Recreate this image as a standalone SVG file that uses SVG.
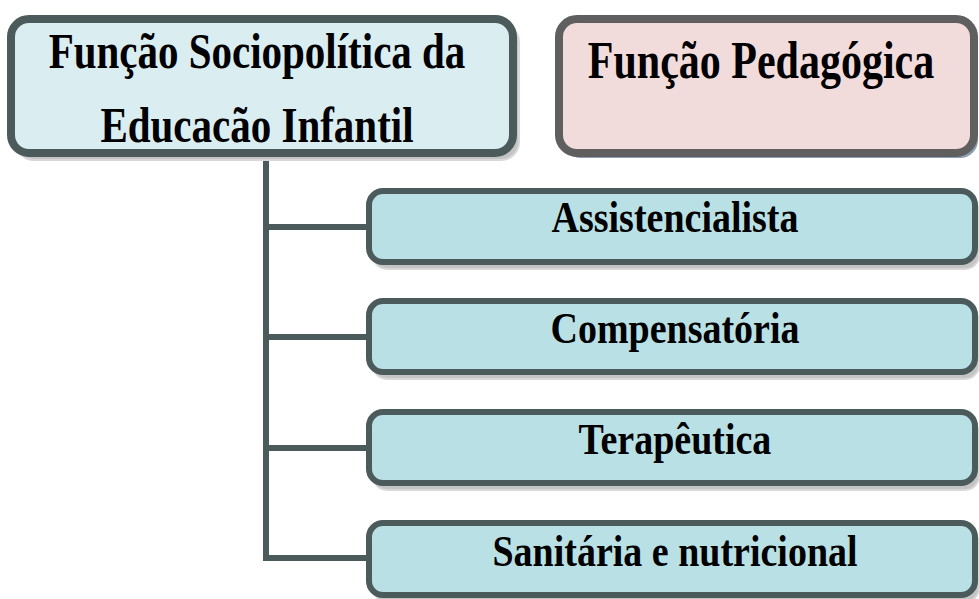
<svg xmlns="http://www.w3.org/2000/svg" width="979" height="599" viewBox="0 0 979 599">
<style>
.t{font-family:"Liberation Serif",serif;font-weight:bold;fill:#000;text-anchor:middle}
.h{font-size:41px}
.c{font-size:38px}
.sh{fill:#c4c4c4;stroke:#d8d8d8;stroke-width:2}
.child{fill:#b9e0e4;stroke:#4b5a5b;stroke-width:6}
.conn{fill:none;stroke:#4b5a5b;stroke-width:6;stroke-linejoin:miter}
</style>
<rect width="979" height="599" fill="#fff"/>
<g id="connectors">
<path class="conn" d="M266 155 V558 H366"/>
<path class="conn" d="M266 227 H366 M266 337 H366 M266 448 H366"/>
</g>
<g id="sociopolitica">
<rect x="16" y="24" width="503" height="136" rx="18" class="sh"/>
<rect x="11" y="19" width="502" height="134" rx="18" fill="#daedf1" stroke="#4b5a5b" stroke-width="8"/>
<text class="t h" transform="translate(257,68) scale(1,1.25)">Função Sociopolítica da</text>
<text class="t h" transform="translate(257,142) scale(1,1.25)">Educacão Infantil</text>
</g>
<g id="pedagogica">
<rect x="563" y="23" width="415" height="135" rx="18" fill="#8d9db3"/>
<rect x="559" y="19" width="415" height="134" rx="18" fill="#f2dcdb" stroke="#5f5f5f" stroke-width="8"/>
<text class="t h" transform="translate(761,78) scale(1,1.25)" style="font-size:42px">Função Pedagógica</text>
</g>
<g id="assistencialista">
<rect x="373" y="198" width="606" height="71" rx="14" class="sh"/>
<rect x="369" y="191" width="606" height="71" rx="14" class="child"/>
<text class="t c" transform="translate(675,232) scale(1,1.15)">Assistencialista</text>
</g>
<g id="compensatoria">
<rect x="373" y="308" width="606" height="71" rx="14" class="sh"/>
<rect x="369" y="301" width="606" height="71" rx="14" class="child"/>
<text class="t c" transform="translate(675,343) scale(1,1.15)">Compensatória</text>
</g>
<g id="terapeutica">
<rect x="373" y="419" width="606" height="71" rx="14" class="sh"/>
<rect x="369" y="412" width="606" height="71" rx="14" class="child"/>
<text class="t c" transform="translate(675,454) scale(1,1.15)">Terapêutica</text>
</g>
<g id="sanitaria">
<rect x="373" y="530" width="606" height="72" rx="14" class="sh"/>
<rect x="369" y="523" width="606" height="72" rx="14" class="child"/>
<text class="t c" transform="translate(675,566) scale(1,1.15)">Sanitária e nutricional</text>
</g>
</svg>
